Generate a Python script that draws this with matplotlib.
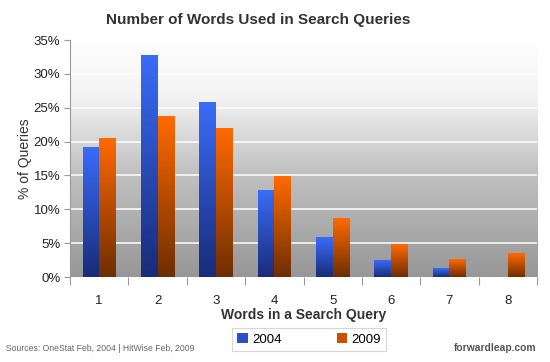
import numpy as np
import matplotlib.pyplot as plt
from matplotlib.colors import LinearSegmentedColormap
from matplotlib.patches import Patch

plt.rcParams['font.family'] = ['Liberation Sans', 'DejaVu Sans']

# dados
palavras = [1, 2, 3, 4, 5, 6, 7, 8]
rotulos = ['1', '2', '3', '4', '5', '6', '7', '8']
q2004 = [19.1, 32.7, 25.7, 12.8, 5.8, 2.5, 1.2, 0.0]
q2009 = [20.4, 23.7, 22.0, 14.9, 8.7, 4.8, 2.6, 3.5]
anos = ['2004', '2009']

fig = plt.figure(figsize=(5.5, 3.62), dpi=100)
ax = fig.add_axes([0.1273, 0.2348, 0.8491, 0.6547])
ax.set_xlim(0.5, 8.5)
ax.set_ylim(0, 35)

# fundo em degradê (branco em cima, cinza embaixo)
fundo = LinearSegmentedColormap.from_list(
    'fundo', [(0, '#979797'), (0.45, '#c2c2c2'), (0.75, '#f2f2f2'), (1, '#ffffff')])
grad = np.linspace(1, 0, 256).reshape(-1, 1)
ax.imshow(grad, cmap=fundo, aspect='auto', extent=(0.5, 8.5, 0, 35),
          zorder=0, interpolation='bicubic')

for y in range(5, 35, 5):
    ax.axhline(y, color='white', lw=1.1, zorder=1)

azul = LinearSegmentedColormap.from_list('azul', ['#182c78', '#3a6cf8'])
laranja = LinearSegmentedColormap.from_list('laranja', ['#6e2e02', '#ff6a00'])

w = 0.286
x = np.array(palavras)
barras1 = ax.bar(x - w / 2, q2004, w, color='none', zorder=2)
barras2 = ax.bar(x + w / 2, q2009, w, color='none', zorder=2)

grad_barra = np.linspace(1, 0, 128).reshape(-1, 1)
for barras, cm in [(barras1, azul), (barras2, laranja)]:
    for b in barras:
        h = b.get_height()
        if h <= 0:
            continue
        x0 = b.get_x()
        ax.imshow(grad_barra, cmap=cm, aspect='auto',
                  extent=(x0, x0 + b.get_width(), 0, h), zorder=3)

ax.set_xlim(0.5, 8.5)
ax.set_ylim(0, 35)

# eixos
for s in ['top', 'right', 'bottom']:
    ax.spines[s].set_visible(False)
ax.spines['left'].set_color('#9a9a9a')
ax.set_xticks(np.arange(0.5, 9.0, 1.0))
ax.set_xticklabels([])
ax.tick_params(axis='x', which='major', length=6, color='#9a9a9a', direction='out')
ax.set_xticks(x, minor=True)
ax.set_xticklabels(rotulos, minor=True)
ax.tick_params(axis='x', which='minor', length=0, pad=13, labelsize=9.5, labelcolor='#222222')
ax.set_yticks(range(0, 36, 5))
ax.set_yticklabels([f'{v}%' for v in range(0, 36, 5)])
ax.tick_params(axis='y', length=4, color='#9a9a9a', labelsize=9.5, labelcolor='#222222', pad=3)

ax.set_ylabel('% of Queries', fontsize=10, color='#333333', labelpad=1)
ax.set_xlabel('Words in a Search Query', fontsize=10, fontweight='bold', color='#333333', labelpad=1)
fig.text(0.47, 0.945, 'Number of Words Used in Search Queries', ha='center', va='center',
         fontsize=11, fontweight='bold', color='#333333')

handles = [Patch(facecolor='#2a4fc8', edgecolor='none'),
           Patch(facecolor='#c85000', edgecolor='none')]
leg = fig.legend(handles, anos, loc='center', bbox_to_anchor=(0.562, 0.063), ncol=2,
                 fontsize=9.5, frameon=True, fancybox=False, handlelength=0.8,
                 handleheight=0.8, handletextpad=0.3, columnspacing=4.2,
                 borderpad=0.4, borderaxespad=0)
leg.get_frame().set_edgecolor('#cccccc')
leg.get_frame().set_linewidth(0.8)

fig.text(0.011, 0.036, 'Sources: OneStat Feb, 2004 | HitWise Feb, 2009', fontsize=6.2,
         color='#666666', va='center', ha='left')
fig.text(0.976, 0.039, 'forwardleap.com', fontsize=7.4, color='#555555',
         va='center', ha='right', fontweight='bold')

fig.savefig('out.png', dpi=100)
